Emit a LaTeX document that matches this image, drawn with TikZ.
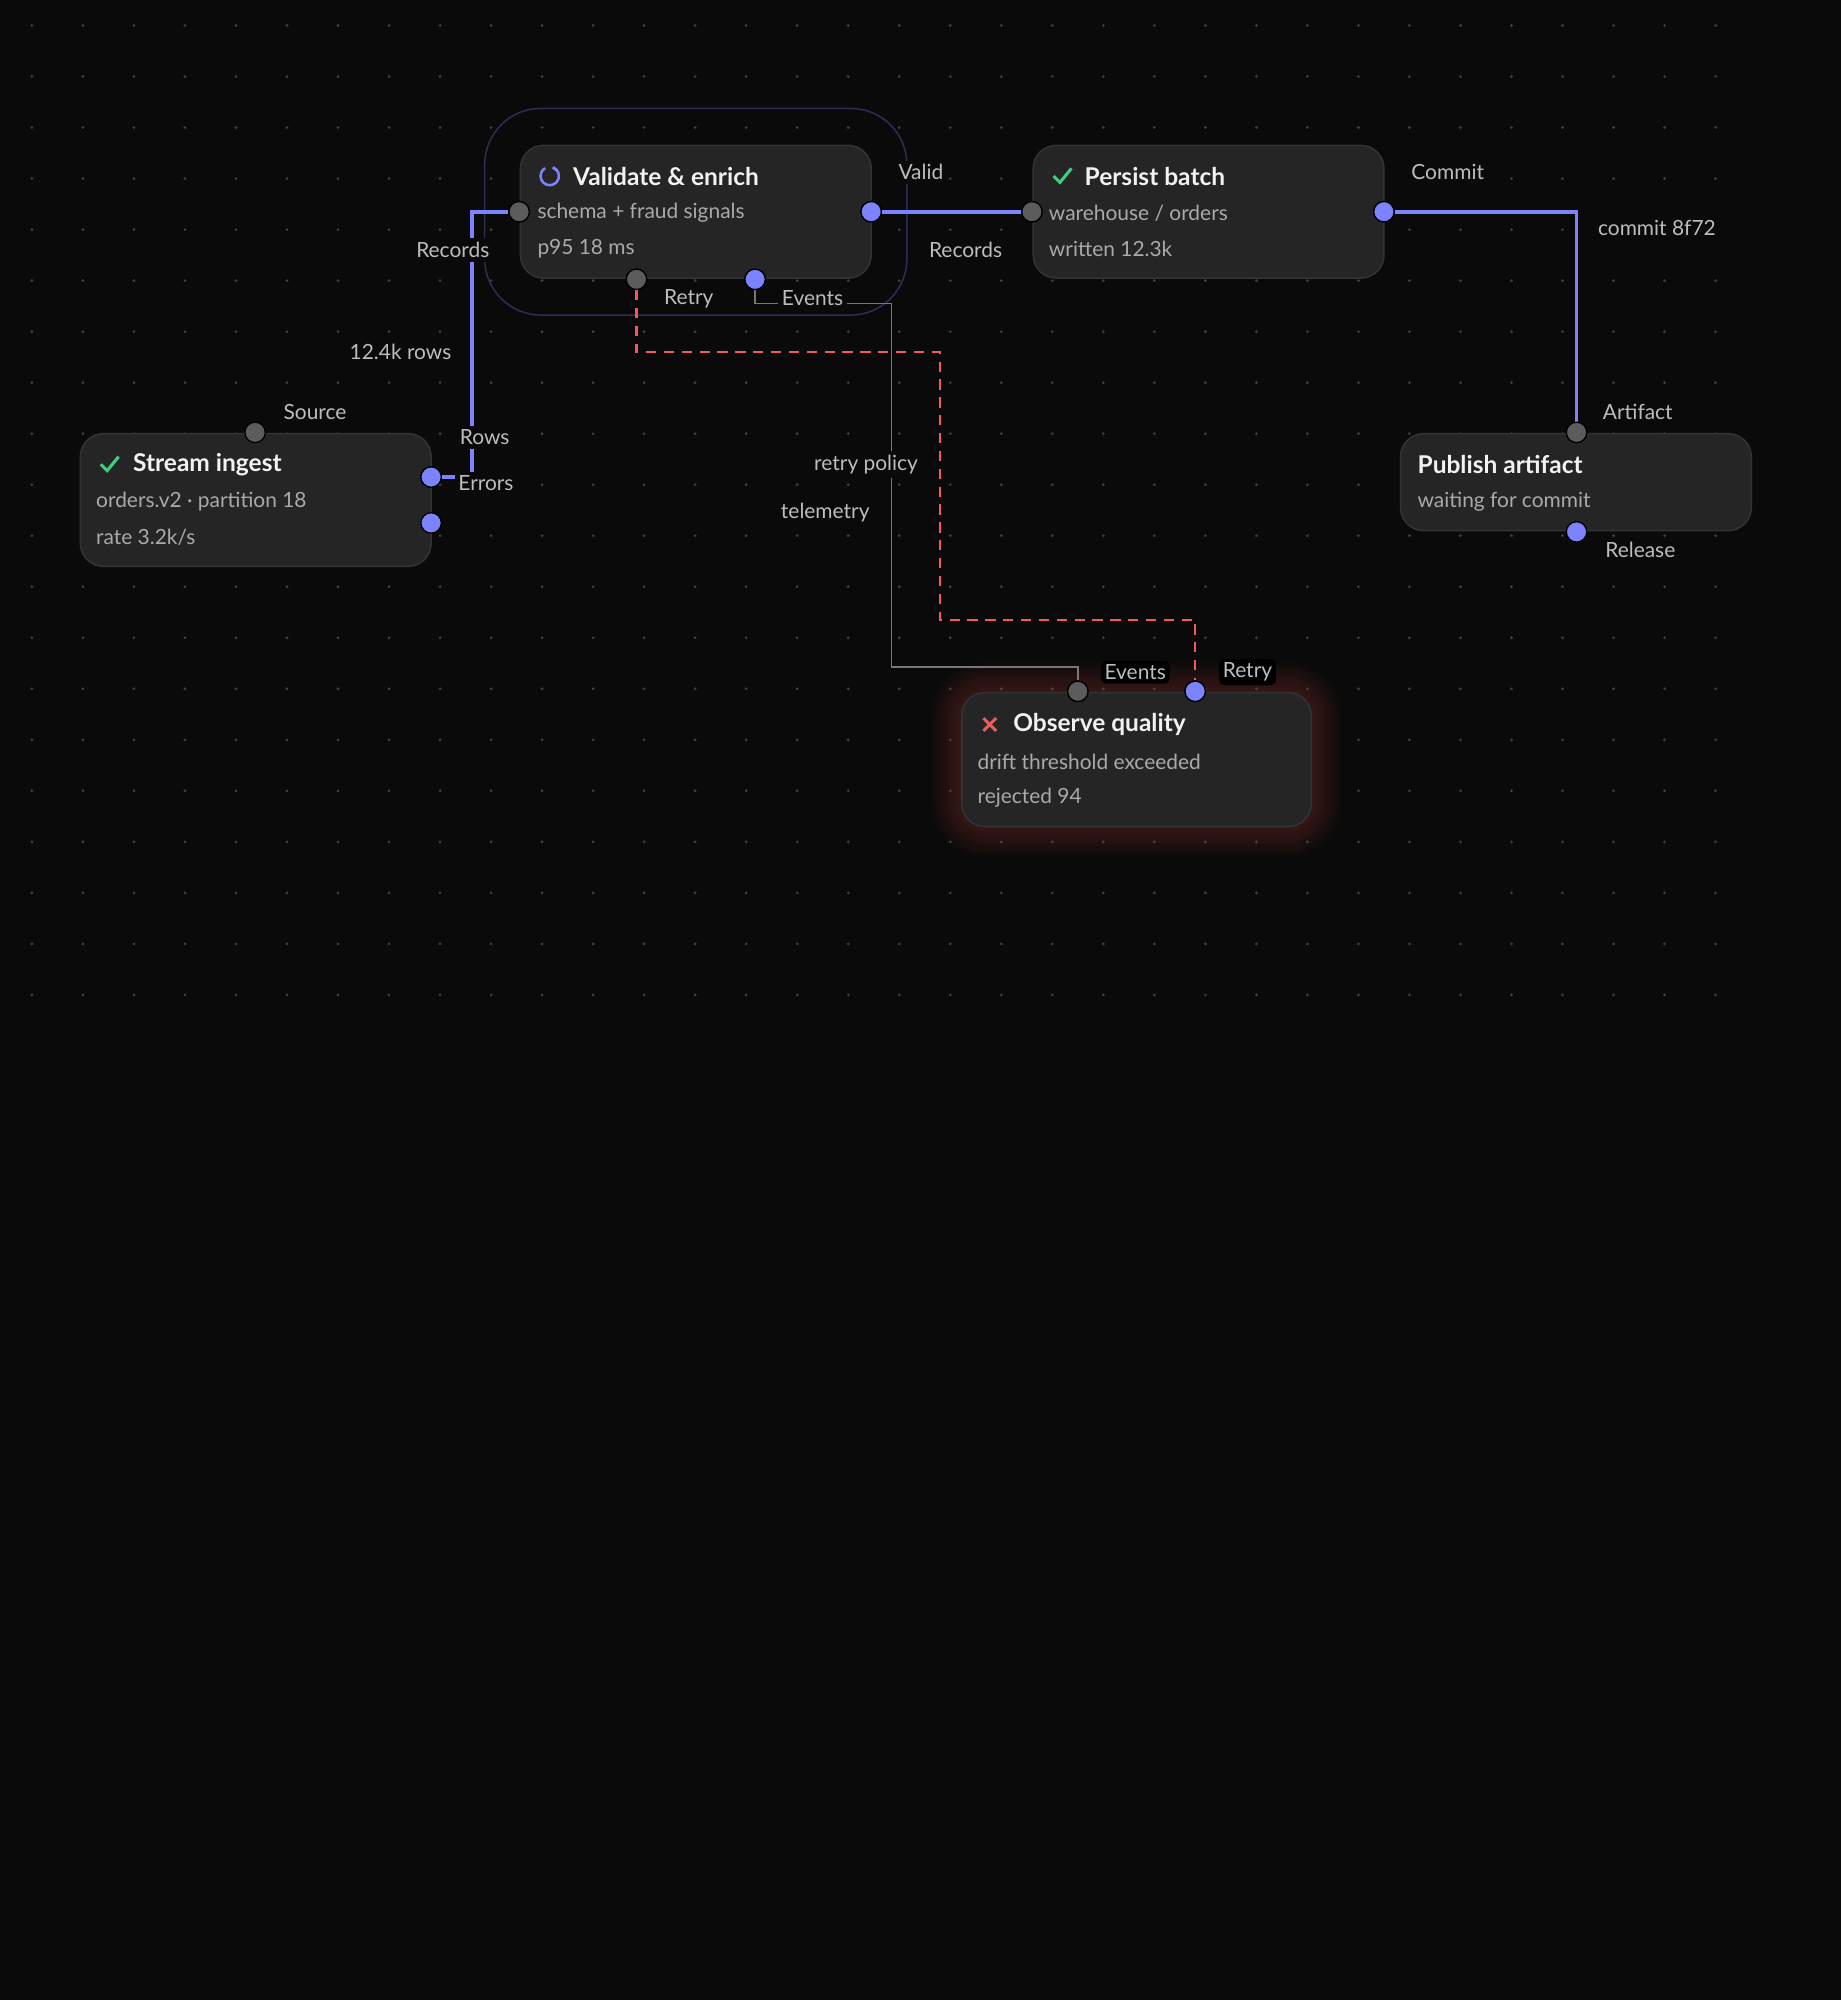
\documentclass[tikz,border=0pt]{standalone}
\usepackage{fontspec}
\setmainfont{Lato}
\usetikzlibrary{positioning,calc}
\definecolor{bg}{HTML}{0A0A0A}
\definecolor{card}{HTML}{252525}
\definecolor{cardline}{HTML}{333333}
\definecolor{wire}{HTML}{7B83FF}
\definecolor{port}{HTML}{5C5C5C}
\definecolor{txt}{HTML}{F2F2F2}
\definecolor{sub}{HTML}{AAAAAA}
\definecolor{lbl}{HTML}{BDBDBD}
\definecolor{bad}{HTML}{F05A5A}
\definecolor{good}{HTML}{3FCF7A}
\tikzset{
  card/.style={draw=cardline, line width=0.6pt, fill=card, rounded corners=9pt},
  title/.style={text=txt, font=\fontsize{9.6}{11}\selectfont\bfseries, anchor=west, inner sep=0pt},
  info/.style={text=sub, font=\fontsize{8.2}{10}\selectfont, anchor=west, inner sep=0pt},
  lab/.style={text=lbl, font=\fontsize{8.2}{10}\selectfont, fill=bg, inner sep=1.5pt},
  tag/.style={lab, rounded corners=2pt, fill=black},
  inport/.style={circle, draw=black, line width=0.5pt, fill=port, minimum size=8pt, inner sep=0pt},
  outport/.style={inport, fill=wire},
  flow/.style={draw=wire, line width=1.5pt},
  tele/.style={draw=white!45!bg, line width=0.7pt},
  retry/.style={draw=bad, line width=0.8pt, dash pattern=on 4pt off 3pt},
}
\begin{document}
\begin{tikzpicture}[x=0.5pt,y=-0.5pt]
\fill[bg] (0,0) rectangle (1443,1568);
\useasboundingbox (0,0) rectangle (1443,1568);
% dotted grid
\foreach \gx in {25,65,...,1345}
  \foreach \gy in {20,60,...,780}
    \fill[white!22!bg] (\gx,\gy) circle (0.6pt);

% group frame around validation
\draw[draw=wire!30!bg, line width=0.6pt, rounded corners=22pt] (380,85) rectangle (711,247);

% glow behind failing node
\foreach \g in {2,4,...,24}
  \fill[bad, opacity=0.018, rounded corners=10pt+\g*0.5pt] (754-\g,543-\g) rectangle (1028+\g,648+\g);

% cards
\draw[card] (408,114) rectangle (683,218);
\draw[card] (810,114) rectangle (1085,218);
\draw[card] (63,340) rectangle (338,444);
\draw[card] (1098,340) rectangle (1373,416);
\draw[card] (754,543) rectangle (1028,648);

% ports
\node[inport]  (vIn)   at (407,166) {};
\node[outport] (vOut)  at (683,166) {};
\node[inport]  (vRty)  at (499,219) {};
\node[outport] (vEvt)  at (592,219) {};
\node[inport]  (pIn)   at (809,166) {};
\node[outport] (pOut)  at (1085,166) {};
\node[inport]  (sSrc)  at (200,339) {};
\node[outport] (sRows) at (338,374) {};
\node[outport] (sErr)  at (338,410) {};
\node[inport]  (aIn)   at (1236,339) {};
\node[outport] (aRel)  at (1236,417) {};
\node[inport]  (qEvt)  at (845,542) {};
\node[outport] (qRty)  at (937,542) {};

% connectors
\draw[flow] (sRows.east) -- (370,374) -- (370,166) -- (vIn.west);
\draw[flow] (vOut.east) -- (pIn.west);
\draw[flow] (pOut.east) -- (1236,166) -- (aIn.north);
\draw[tele] (vEvt.south) -- (592,238) -- (699,238) -- (699,523) -- (845,523) -- (qEvt.north);
\draw[retry] (vRty.south) -- (499,276) -- (737,276) -- (737,486) -- (937,486) -- (qRty.north);
% redraw ports on top
\foreach \p/\s in {vIn/inport,vOut/outport,vRty/inport,vEvt/outport,pIn/inport,pOut/outport,sRows/outport,aIn/inport,qEvt/inport,qRty/outport}
  \node[\s] at (\p) {};

% card texts
\draw[wire, line width=1pt] (431,138) ++(70:3.6pt) arc[start angle=70, end angle=-240, radius=3.6pt];
\draw[wire, line width=1pt] (431,138) ++(70:3.6pt) -- ++(1.6pt,-1.2pt);
\node[title] (vT) at (449,138) {Validate \& enrich};
\node[info] at (421,167) {schema + fraud signals};
\node[info] at (421,195) {p95 18 ms};

\draw[good, line width=1.2pt] (826,138) -- (831,143) -- (840,132);
\node[title] (pT) at (850,138) {Persist batch};
\node[info] at (822,167) {warehouse / orders};
\node[info] at (822,195) {written 12.3k};

\draw[good, line width=1.2pt] (79,364) -- (84,369) -- (93,358);
\node[title] (sT) at (104,364) {Stream ingest};
\node[info] at (75,393) {orders.v2 · partition 18};
\node[info] at (75,421) {rate 3.2k/s};

\node[title] (aT) at (1111,364) {Publish artifact};
\node[info] at (1111,393) {waiting for commit};

\draw[bad, line width=1.2pt] (771,563) -- (781,573) (771,573) -- (781,563);
\node[title] (qT) at (794,568) {Observe quality};
\node[info] at (766,597) {drift threshold exceeded};
\node[info] at (766,625) {rejected 94};

% connector labels
\node[lab] at (355,196) {Records};
\node[lab] at (314,276) {12.4k rows};
\node[lab] at (380,343) {Rows};
\node[lab] at (381,379) {Errors};
\node[lab] at (247,323) {Source};
\node[lab] at (722,135) {Valid};
\node[lab] at (757,196) {Records};
\node[lab] at (1135,135) {Commit};
\node[lab] at (1299,179) {commit 8f72};
\node[lab] at (1284,323) {Artifact};
\node[lab] at (1286,431) {Release};
\node[lab] at (540,234) {Retry};
\node[lab] at (637,234) {Events};
\node[lab] at (679,364) {retry policy};
\node[lab] at (647,402) {telemetry};
\node[tag] at (890,527) {Events};
\node[tag] at (978,527) {Retry};
\end{tikzpicture}
\end{document}
